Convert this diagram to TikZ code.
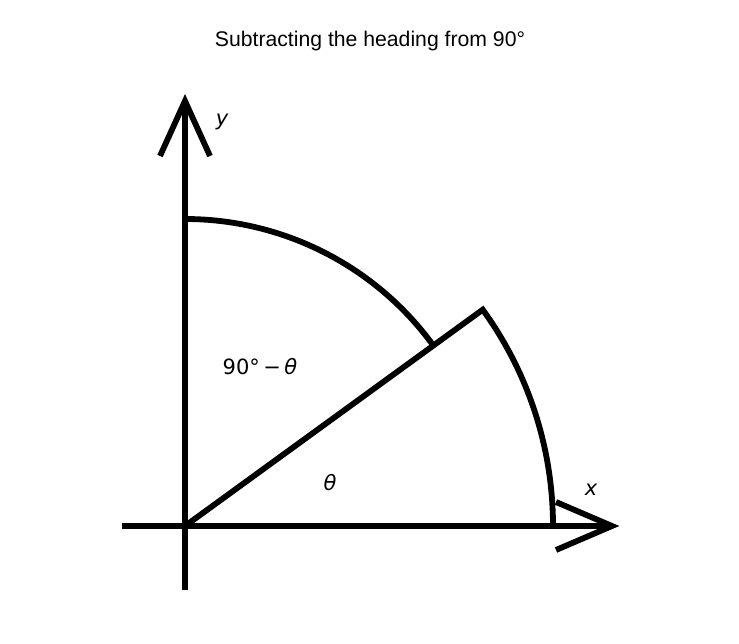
\documentclass[tikz,border=0pt]{standalone}
\usepackage{fontspec}
\setmainfont{Liberation Sans}
\newfontfamily\djv{DejaVu Sans}
\begin{document}
\begin{tikzpicture}[x=1pt,y=1pt,
  thick line/.style={line width=5.8pt,black},
  lbl/.style={inner sep=0pt,font=\djv\fontsize{21}{24}\selectfont},
  ttl/.style={inner sep=0pt,font=\fontsize{21.2}{25}\selectfont}]
\useasboundingbox (0,0) rectangle (739,643);
\coordinate (O) at (185,117);
\coordinate (ybot) at (185,53);
\coordinate (ytip) at (185,542);
\coordinate (yl) at (160,487);
\coordinate (yr) at (210,487);
\coordinate (xleft) at (122,117);
\coordinate (xtip) at (612,117);
\coordinate (xu) at (556,141);
\coordinate (xd) at (556,93);
% axes
\draw[thick line] (ybot) -- (ytip);
\draw[thick line] (xleft) -- (xtip);
\draw[thick line,miter limit=10] (yl) -- (ytip) -- (yr);
\draw[thick line,miter limit=10] (xu) -- (xtip) -- (xd);
% sector
\draw[thick line,miter limit=10] (O) -- ([shift={(O)}]36:368) arc[start angle=36,end angle=0,radius=368];
\draw[thick line] ([shift={(O)}]90:307) arc[start angle=90,end angle=36,radius=307];
% labels
\node[ttl] (title) at (370,602) {Subtracting the heading from 90°};
\node[lbl] (ylab) at (222,521) {\itshape y};
\node[lbl] (xlab) at (591,153) {\itshape x};
\node[lbl] (alab) at (260,276) {90°\,−\,\itshape θ};
\node[lbl] (tlab) at (330,160) {\itshape θ};
\end{tikzpicture}
\end{document}
